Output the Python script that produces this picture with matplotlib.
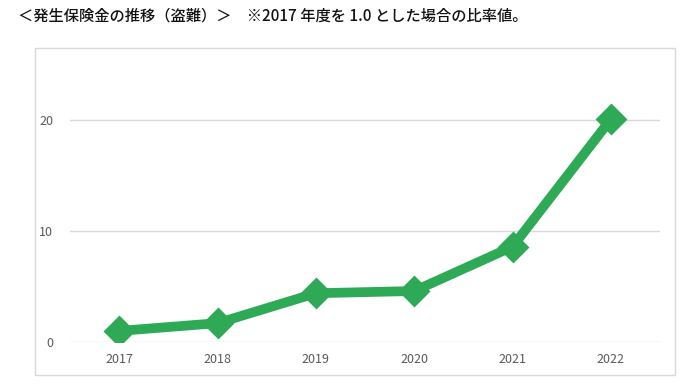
import matplotlib.pyplot as plt
from matplotlib.patches import Rectangle

plt.rcParams['font.family'] = ['Noto Sans CJK JP', 'DejaVu Sans']

# data
years = ['2017', '2018', '2019', '2020', '2021', '2022']
ratio = [1.0, 1.7, 4.4, 4.6, 8.6, 20.1]
y_ticks = [0, 10, 20]

title = '＜発生保険金の推移（盗難）＞　※2017 年度を 1.0 とした場合の比率値。'

fig = plt.figure(figsize=(7, 3.9), dpi=100)

# outer chart frame
fig.patches.append(Rectangle((35 / 700, 15 / 390), 640 / 700, 327 / 390,
                             transform=fig.transFigure, fill=False,
                             edgecolor='#d9d9d9', linewidth=1))

fig.text(18 / 700, 1 - 16 / 390, title, fontsize=11, va='center', ha='left',
         color='#111111', fontweight='medium')

ax = fig.add_axes([70 / 700, 48 / 390, 590 / 700, 266 / 390])
x = range(len(years))
ax.plot(x, ratio, color='#2eaa56', linewidth=7, marker='D', markersize=14,
        solid_joinstyle='round', solid_capstyle='round', markeredgewidth=2,
        markeredgecolor='#2eaa56')
ax.set_xlim(-0.5, len(years) - 0.5)
ax.set_ylim(0, 24)
ax.set_xticks(list(x))
ax.set_xticklabels(years)
ax.set_yticks(y_ticks)
ax.grid(axis='y', color='#d9d9d9', linewidth=1)
ax.set_axisbelow(True)
for s in ax.spines.values():
    s.set_visible(False)
ax.tick_params(length=0, labelsize=9, labelcolor='#595959', pad=8)
ax.tick_params(axis='y', pad=12)

fig.savefig('out.png', dpi=100)
